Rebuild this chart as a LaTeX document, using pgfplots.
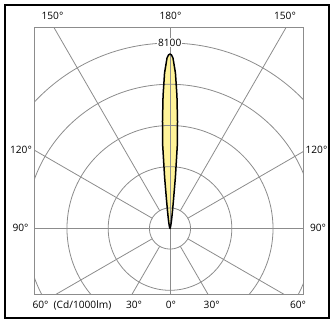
\documentclass[border=0pt]{standalone}
\usepackage{pgfplots}
\usepackage{pgfplotstable}
\pgfplotsset{compat=1.18}
\usepackage{fontspec}
\setmainfont{Open Sans}
\definecolor{lobe}{RGB}{255,243,153}
\definecolor{gridc}{RGB}{140,140,140}
\pgfplotstableread{
a I
-90 0
-30 20
-20 50
-15 120
-12 250
-10 400
-9 550
-8 800
-7 1250
-6 2250
-5 3700
-4 4700
-3 5800
-2 6800
-1 7450
-0.5 7580
0 7620
0.5 7580
1 7450
2 6800
3 5800
4 4700
5 3700
6 2250
7 1250
8 800
9 550
10 400
12 250
15 120
20 50
30 20
90 0
}\lobedata
\begin{document}
\begin{tikzpicture}[font=\fontsize{10.2}{12}\selectfont]
\begin{axis}[
  x=0.022901bp, y=0.022901bp,
  xmin=-5917, xmax=5821, ymin=-2869, ymax=8768,
  xtick=\empty, ytick=\empty,
  axis line style={draw=gridc, line width=0.8bp},
]
\addplot[fill=lobe, draw=none] table[x expr={\thisrow{I}*sin(\thisrow{a})}, y expr={\thisrow{I}*cos(\thisrow{a})}] {\lobedata} -- cycle;
\draw[gridc, line width=0.8bp] (axis cs:0,0) circle[radius=900];
\draw[gridc, line width=0.8bp] (axis cs:0,0) circle[radius=2700];
\draw[gridc, line width=0.8bp] (axis cs:0,0) circle[radius=4500];
\draw[gridc, line width=0.8bp] (axis cs:0,0) circle[radius=6300];
\draw[gridc, line width=0.8bp] (axis cs:0,0) circle[radius=8100];
\draw[gridc, line width=0.8bp] (axis cs:-12000,0) -- (axis cs:12000,0);
\draw[gridc, line width=0.8bp] (axis cs:0,-12000) -- (axis cs:0,12000);
\draw[gridc, line width=0.8bp] (axis cs:450,779.4) -- (axis cs:6000,10392);
\draw[gridc, line width=0.8bp] (axis cs:-450,779.4) -- (axis cs:-6000,10392);
\draw[gridc, line width=0.8bp] (axis cs:779.4,450) -- (axis cs:10392,6000);
\draw[gridc, line width=0.8bp] (axis cs:-779.4,450) -- (axis cs:-10392,6000);
\draw[gridc, line width=0.8bp] (axis cs:779.4,-450) -- (axis cs:10392,-6000);
\draw[gridc, line width=0.8bp] (axis cs:-779.4,-450) -- (axis cs:-10392,-6000);
\draw[gridc, line width=0.8bp] (axis cs:450,-779.4) -- (axis cs:6000,-10392);
\draw[gridc, line width=0.8bp] (axis cs:-450,-779.4) -- (axis cs:-6000,-10392);
\addplot[draw=black, line width=1.5bp, line join=round] table[x expr={\thisrow{I}*sin(\thisrow{a})}, y expr={\thisrow{I}*cos(\thisrow{a})}] {\lobedata} -- cycle;
\coordinate (O) at (axis cs:0,0);
\end{axis}
\path[use as bounding box] ([shift={(-170bp,-91.5bp)}]O) rectangle ([shift={(162bp,228.5bp)}]O);
\draw[line width=1.3bp] ([shift={(-165bp,-89.5bp)}]O) rectangle ([shift={(159bp,223.5bp)}]O);
\node[anchor=base] at ([shift={(-117.5bp,208.9bp)}]O) {150°};
\node[anchor=base] at ([shift={(0.5bp,208.9bp)}]O) {180°};
\node[anchor=base] at ([shift={(115bp,208.9bp)}]O) {150°};
\node[anchor=base, fill=white, inner sep=0.6bp] at ([shift={(-0.3bp,182.2bp)}]O) {8100};
\node[anchor=base] at ([shift={(-149bp,75.4bp)}]O) {120°};
\node[anchor=base] at ([shift={(146.5bp,75.4bp)}]O) {120°};
\node[anchor=base] at ([shift={(-149.5bp,-3.1bp)}]O) {90°};
\node[anchor=base] at ([shift={(148bp,-3.1bp)}]O) {90°};
\node[anchor=base] at ([shift={(-129.5bp,-80.1bp)}]O) {60°};
\node[anchor=base] at ([shift={(-87.5bp,-80.1bp)}]O) {(Cd/1000lm)};
\node[anchor=base] at ([shift={(-36bp,-80.1bp)}]O) {30°};
\node[anchor=base] at ([shift={(1bp,-80.1bp)}]O) {0°};
\node[anchor=base] at ([shift={(41.7bp,-80.1bp)}]O) {30°};
\node[anchor=base] at ([shift={(128bp,-80.1bp)}]O) {60°};
\end{tikzpicture}
\end{document}
